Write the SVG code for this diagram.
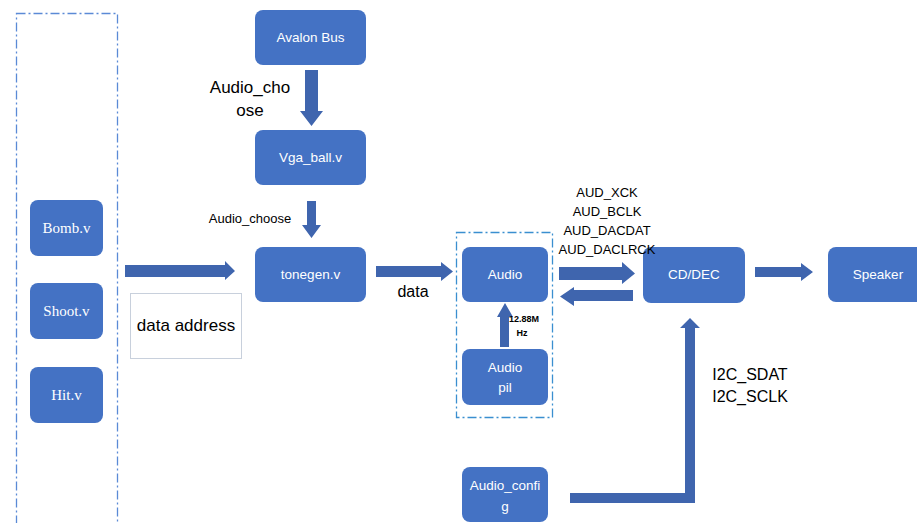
<svg xmlns="http://www.w3.org/2000/svg" width="917" height="523" viewBox="0 0 917 523">
<style>
.box{fill:#4472c4;}
.bt{fill:#fff;font-family:"Liberation Sans",Arial,sans-serif;font-size:13.5px;text-anchor:middle;}
.st{fill:#fff;font-family:"Liberation Serif","Times New Roman",serif;font-size:15px;text-anchor:middle;}
.lb{fill:#000;font-family:"Liberation Sans",Arial,sans-serif;text-anchor:middle;}
.arr{fill:#3f65ae;}
</style>
<rect width="917" height="523" fill="#fff"/>
<rect x="16.5" y="13.5" width="101" height="520" fill="none" stroke="#5b8ad6" stroke-width="1.3" stroke-dasharray="9,3,2,3"/>
<rect x="456.5" y="232.5" width="96" height="185" fill="none" stroke="#3a8fd0" stroke-width="1.3" stroke-dasharray="9,3,2,3"/>

<g id="bomb"><rect class="box" x="30" y="200" width="73" height="56" rx="8"/><text class="st" x="66.5" y="233">Bomb.v</text></g>
<g id="shoot"><rect class="box" x="30" y="283" width="73" height="56" rx="8"/><text class="st" x="66.5" y="316">Shoot.v</text></g>
<g id="hit"><rect class="box" x="30" y="367" width="73" height="56" rx="8"/><text class="st" x="66.5" y="400">Hit.v</text></g>
<g id="dataaddr"><rect x="130.5" y="293.5" width="111" height="65" fill="#fff" stroke="#c8d0dc" stroke-width="1"/><text class="lb" x="186" y="331" font-size="17">data address</text></g>
<g id="avalon"><rect class="box" x="255" y="10" width="111" height="55" rx="8"/><text class="bt" x="310.5" y="42">Avalon Bus</text></g>
<g id="vgaball"><rect class="box" x="255" y="130" width="111" height="55" rx="8"/><text class="bt" x="310.5" y="162">Vga_ball.v</text></g>
<g id="tonegen"><rect class="box" x="255" y="247" width="111" height="55" rx="8"/><text class="bt" x="310.5" y="279">tonegen.v</text></g>
<g id="audio"><rect class="box" x="462" y="247" width="86" height="55" rx="8"/><text class="bt" x="505" y="279">Audio</text></g>
<g id="audiopil"><rect class="box" x="462" y="349" width="86" height="56" rx="8"/><text class="bt" x="505" y="372">Audio</text><text class="bt" x="505" y="392">pil</text></g>
<g id="audioconfig"><rect class="box" x="462" y="467" width="86" height="55" rx="8"/><text class="bt" x="505" y="490">Audio_confi</text><text class="bt" x="505" y="511">g</text></g>
<g id="cddec"><rect class="box" x="643" y="247" width="102" height="56" rx="8"/><text class="bt" x="694" y="279">CD/DEC</text></g>
<g id="speaker"><rect class="box" x="828" y="247" width="100" height="55" rx="8"/><text class="bt" x="878" y="279">Speaker</text></g>

<g id="connectors">
<polygon class="arr" points="305,70 318,70 318,111 323,111 311.5,126 300,111 305,111"/>
<polygon class="arr" points="307,201 316,201 316,225 321,225 311.5,238 302,225 307,225"/>
<polygon class="arr" points="125,265 225,265 225,261 235,271 225,280 225,277 125,277"/>
<polygon class="arr" points="376,266 441,266 441,262 453,271.5 441,281 441,277 376,277"/>
<polygon class="arr" points="500,347 509,347 509,317 513,317 505,303 497,317 500,317"/>
<polygon class="arr" points="559,267 622,267 622,262 635,273.5 622,284 622,280 559,280"/>
<polygon class="arr" points="633,290 574,290 574,287 560,296.5 574,306 574,301 633,301"/>
<polygon class="arr" points="755,267 801,267 801,263 813,272 801,281 801,277 755,277"/>
<polygon class="arr" points="570,493 685,493 685,328 680,328 690,318 700,328 695,328 695,503 570,503"/>
</g>

<g id="labels">
<text class="lb" x="250" y="93" font-size="17">Audio_cho</text>
<text class="lb" x="250" y="116" font-size="17">ose</text>
<text class="lb" x="250" y="223" font-size="13">Audio_choose</text>
<text class="lb" x="413" y="297" font-size="16">data</text>
<text class="lb" x="607" y="197" font-size="13">AUD_XCK</text>
<text class="lb" x="607" y="216" font-size="13">AUD_BCLK</text>
<text class="lb" x="607" y="235" font-size="13">AUD_DACDAT</text>
<text class="lb" x="607" y="254" font-size="13">AUD_DACLRCK</text>
<text class="lb" x="524" y="322" font-size="9" font-weight="bold">12.88M</text>
<text class="lb" x="522" y="336" font-size="9" font-weight="bold">Hz</text>
<text class="lb" x="750" y="380" font-size="16">I2C_SDAT</text>
<text class="lb" x="750" y="402" font-size="16">I2C_SCLK</text>
</g>
</svg>
